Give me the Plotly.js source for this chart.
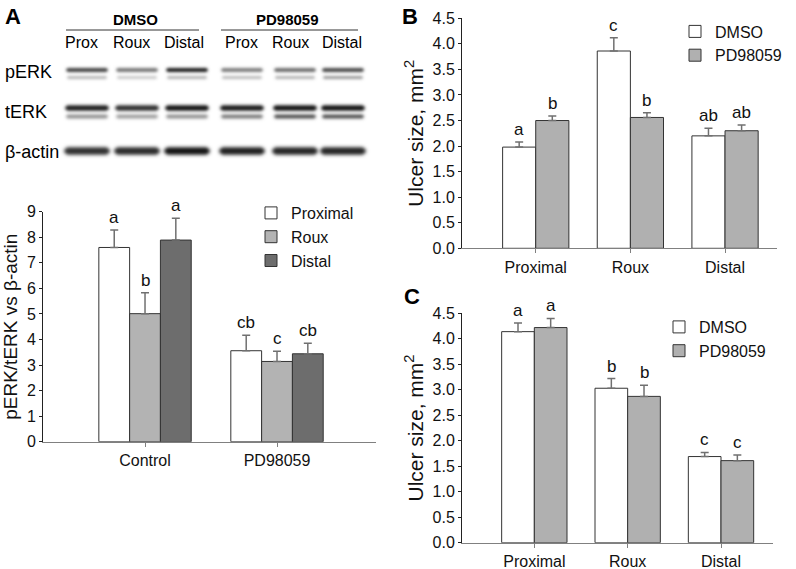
<!DOCTYPE html>
<html>
<head>
<meta charset="utf-8">
<script src="https://cdn.plot.ly/plotly-3.0.1.min.js"></script>
<style>html,body{margin:0;padding:0;background:#fff;}#chart{width:796px;height:569px;}</style>
</head>
<body>
<div id="chart"></div>
<script>
// ---------------- data ----------------
const groupsA = ['Control', 'PD98059'];
const proximalA = [7.60, 3.56];
const proximalAErr = [0.68, 0.61];
const rouxA = [5.01, 3.14];
const rouxAErr = [0.82, 0.40];
const distalA = [7.89, 3.44];
const distalAErr = [0.85, 0.41];
const proximalALetters = ['a', 'cb'];
const rouxALetters = ['b', 'c'];
const distalALetters = ['a', 'cb'];

const sites = ['Proximal', 'Roux', 'Distal'];
const dmsoB = [1.98, 3.86, 2.20];
const dmsoBErr = [0.10, 0.26, 0.15];
const pdB = [2.50, 2.56, 2.30];
const pdBErr = [0.09, 0.09, 0.11];
const dmsoBLetters = ['a', 'c', 'ab'];
const pdBLetters = ['b', 'b', 'ab'];

const dmsoC = [4.14, 3.03, 1.69];
const dmsoCErr = [0.17, 0.19, 0.08];
const pdC = [4.22, 2.87, 1.61];
const pdCErr = [0.18, 0.22, 0.11];
const dmsoCLetters = ['a', 'b', 'c'];
const pdCLetters = ['a', 'b', 'c'];

// western blot
const blotTreatments = ['DMSO', 'PD98059'];
const blotLanes = ['Prox', 'Roux', 'Distal', 'Prox', 'Roux', 'Distal'];
const blotRows = ['pERK', 'tERK', 'β-actin'];
const pERKUpper = [0.80, 0.58, 0.97, 0.55, 0.62, 0.78];
const pERKLower = [0.32, 0.24, 0.34, 0.30, 0.34, 0.45];
const tERKUpper = [0.95, 0.88, 1.00, 0.97, 1.00, 1.00];
const tERKLower = [0.48, 0.42, 0.48, 0.58, 0.78, 0.78];
const actin = [0.88, 0.90, 1.00, 0.95, 0.92, 0.92];

// ---------------- helpers ----------------
const W = 796, H = 569;
const px = x => x / W;
const py = y => 1 - y / H;
const FONT = 'Liberation Sans, Arial, sans-serif';

function errSpec(arr) {
  return {type: 'data', symmetric: false, array: arr, arrayminus: arr.map(() => 0),
          color: '#707070', thickness: 1.5, width: 4};
}
function letterAnns(xr, yr, vals, errs, letters, offset) {
  return vals.map((v, i) => ({
    xref: xr, yref: yr, x: i + offset, y: v + errs[i], text: letters[i],
    xanchor: 'center', showarrow: false, yanchor: 'bottom', yshift: 1,
    font: {size: 17, color: '#111', family: FONT}
  }));
}
const barLine = {color: '#333', width: 1};

// ---------------- blot image (canvas, soft bands via shadow blur) ----------------
function drawBlot() {
  const S = 3, x0 = 55, y0 = 55, w = 320, h = 112, OFF = 2000;
  const c = document.createElement('canvas');
  c.width = w * S; c.height = h * S;
  const ctx = c.getContext('2d');
  ctx.fillStyle = '#fff'; ctx.fillRect(0, 0, c.width, c.height);
  const laneX = [87, 137, 187, 242, 295, 343];
  function band(cx, cy, bw, bh, a, blur) {
    ctx.save();
    ctx.shadowColor = 'rgba(20,20,20,' + a + ')';
    ctx.shadowBlur = blur * S * 2;
    ctx.shadowOffsetX = OFF;
    ctx.fillStyle = '#000';
    const l = (cx - x0 - bw / 2) * S - OFF, t = (cy - y0 - bh / 2) * S;
    const bwS = bw * S, bhS = bh * S, r = bhS / 2;
    ctx.beginPath();
    ctx.moveTo(l + r, t);
    ctx.lineTo(l + bwS - r, t);
    ctx.quadraticCurveTo(l + bwS + r, t + bhS / 2, l + bwS - r, t + bhS);
    ctx.lineTo(l + r, t + bhS);
    ctx.quadraticCurveTo(l - r, t + bhS / 2, l + r, t);
    ctx.closePath();
    ctx.fill();
    ctx.restore();
  }
  laneX.forEach((cx, i) => {
    band(cx, 70, 42, 4.0, pERKUpper[i], 1.5);
    band(cx, 77.5, 40, 2.8, pERKLower[i], 1.5);
    band(cx, 108, 44, 5.5, tERKUpper[i], 1.6);
    band(cx, 116.5, 42, 3.8, tERKLower[i], 1.6);
    band(cx, 151, 46, 7.5, actin[i], 1.7);
  });
  return c.toDataURL('image/png');
}

// ---------------- traces ----------------
const traces = [
  {type: 'bar', x: groupsA, y: proximalA, name: 'Proximal', xaxis: 'x', yaxis: 'y', legend: 'legend',
   marker: {color: '#ffffff', line: barLine}, error_y: errSpec(proximalAErr)},
  {type: 'bar', x: groupsA, y: rouxA, name: 'Roux', xaxis: 'x', yaxis: 'y', legend: 'legend',
   marker: {color: '#b3b3b3', line: barLine}, error_y: errSpec(rouxAErr)},
  {type: 'bar', x: groupsA, y: distalA, name: 'Distal', xaxis: 'x', yaxis: 'y', legend: 'legend',
   marker: {color: '#6d6d6d', line: barLine}, error_y: errSpec(distalAErr)},

  {type: 'bar', x: sites, y: dmsoB, name: 'DMSO', xaxis: 'x2', yaxis: 'y2', legend: 'legend2',
   marker: {color: '#ffffff', line: barLine}, error_y: errSpec(dmsoBErr)},
  {type: 'bar', x: sites, y: pdB, name: 'PD98059', xaxis: 'x2', yaxis: 'y2', legend: 'legend2',
   marker: {color: '#b0b0b0', line: barLine}, error_y: errSpec(pdBErr)},

  {type: 'bar', x: sites, y: dmsoC, name: 'DMSO', xaxis: 'x3', yaxis: 'y3', legend: 'legend3',
   marker: {color: '#ffffff', line: barLine}, error_y: errSpec(dmsoCErr)},
  {type: 'bar', x: sites, y: pdC, name: 'PD98059', xaxis: 'x3', yaxis: 'y3', legend: 'legend3',
   marker: {color: '#b0b0b0', line: barLine}, error_y: errSpec(pdCErr)}
];

// ---------------- axes ----------------
function xAxis(domain, range, anchor) {
  return {domain: domain, range: range, anchor: anchor, type: 'category',
    showline: true, linecolor: '#808080', linewidth: 1, ticks: 'outside', ticklen: 4,
    tickcolor: '#808080', showgrid: false, zeroline: false,
    tickfont: {size: 16, color: '#111', family: FONT}, fixedrange: true};
}
function yAxis(domain, range, anchor, dtick, fmt, title, tsize, standoff) {
  return {domain: domain, range: range, anchor: anchor, dtick: dtick, tickformat: fmt,
    showline: true, linecolor: '#222', linewidth: 1, ticks: 'outside', ticklen: 3,
    tickcolor: '#222', showgrid: false, zeroline: false,
    tickfont: {size: 16, color: '#111', family: FONT},
    title: {text: title, font: {size: tsize, color: '#111', family: FONT}, standoff: standoff},
    fixedrange: true};
}

const anns = [].concat(
  letterAnns('x', 'y', proximalA, proximalAErr, proximalALetters, -0.7 / 3),
  letterAnns('x', 'y', rouxA, rouxAErr, rouxALetters, 0),
  letterAnns('x', 'y', distalA, distalAErr, distalALetters, 0.7 / 3),
  letterAnns('x2', 'y2', dmsoB, dmsoBErr, dmsoBLetters, -0.175),
  letterAnns('x2', 'y2', pdB, pdBErr, pdBLetters, 0.175),
  letterAnns('x3', 'y3', dmsoC, dmsoCErr, dmsoCLetters, -0.175),
  letterAnns('x3', 'y3', pdC, pdCErr, pdCLetters, 0.175)
);

// panel letters
[['A', 3, 2], ['B', 400, 2], ['C', 402, 282]].forEach(p => anns.push({
  xref: 'paper', yref: 'paper', x: px(p[1]), y: py(p[2]), xanchor: 'left', yanchor: 'top',
  text: '<b>' + p[0] + '</b>', showarrow: false, font: {size: 22, color: '#000', family: FONT}
}));

// blot labels
const treatX = [135, 287];
blotTreatments.forEach((t, i) => anns.push({
  xref: 'paper', yref: 'paper', x: px(treatX[i]), y: py(20), xanchor: 'center', yanchor: 'middle',
  text: '<b>' + t + '</b>', showarrow: false, font: {size: 15, color: '#000', family: FONT}
}));
const laneLabelX = [81, 131, 184, 241, 290, 342];
blotLanes.forEach((l, i) => anns.push({
  xref: 'paper', yref: 'paper', x: px(laneLabelX[i]), y: py(42), xanchor: 'center', yanchor: 'middle',
  text: l, showarrow: false, font: {size: 16, color: '#000', family: FONT}
}));
const rowY = [72, 112, 152];
blotRows.forEach((r, i) => anns.push({
  xref: 'paper', yref: 'paper', x: px(3), y: py(rowY[i]), xanchor: 'left', yanchor: 'middle',
  text: r, showarrow: false, font: {size: 18, color: '#000', family: FONT}
}));

const shapes = [
  {type: 'line', xref: 'paper', yref: 'paper', x0: px(66), x1: px(199), y0: py(30), y1: py(30),
   line: {color: '#333', width: 1}},
  {type: 'line', xref: 'paper', yref: 'paper', x0: px(221), x1: px(358), y0: py(30), y1: py(30),
   line: {color: '#333', width: 1}}
];

function legendSpec(x, y) {
  return {x: x, y: y, xanchor: 'left', yanchor: 'top', bgcolor: 'rgba(0,0,0,0)',
    font: {size: 16, color: '#111', family: FONT}, itemwidth: 30, tracegroupgap: 0};
}

const layout = {
  width: W, height: H, margin: {l: 0, r: 0, t: 0, b: 0},
  paper_bgcolor: '#fff', plot_bgcolor: 'rgba(0,0,0,0)',
  font: {family: FONT, color: '#111'},
  barmode: 'group', bargap: 0.3, bargroupgap: 0,
  xaxis: xAxis([px(43), px(376)], [-0.773, 1.75], 'y'),
  yaxis: yAxis([py(441.7), py(211.7)], [0, 9], 'x', 1, 'd', 'pERK/tERK vs β-actin', 19, 4),
  xaxis2: xAxis([px(462), px(777)], [-0.779, 2.549], 'y2'),
  yaxis2: yAxis([py(248.3), py(18.3)], [0, 4.5], 'x2', 0.5, '.1f', 'Ulcer size, mm<sup>2</sup>', 21, 3),
  xaxis3: xAxis([px(462), px(773)], [-0.775, 2.557], 'y3'),
  yaxis3: yAxis([py(542.7), py(313.3)], [0, 4.5], 'x3', 0.5, '.1f', 'Ulcer size, mm<sup>2</sup>', 21, 3),
  showlegend: true,
  legend: legendSpec(px(251), py(196)),
  legend2: legendSpec(px(675), py(14.5)),
  legend3: legendSpec(px(659), py(310)),
  annotations: anns,
  shapes: shapes,
  images: [{source: drawBlot(), xref: 'paper', yref: 'paper', x: px(55), y: py(55),
    sizex: 320 / W, sizey: 112 / H, sizing: 'stretch', xanchor: 'left', yanchor: 'top', layer: 'below'}]
};

Plotly.newPlot('chart', traces, layout, {staticPlot: true, displayModeBar: false});
</script>
</body>
</html>
